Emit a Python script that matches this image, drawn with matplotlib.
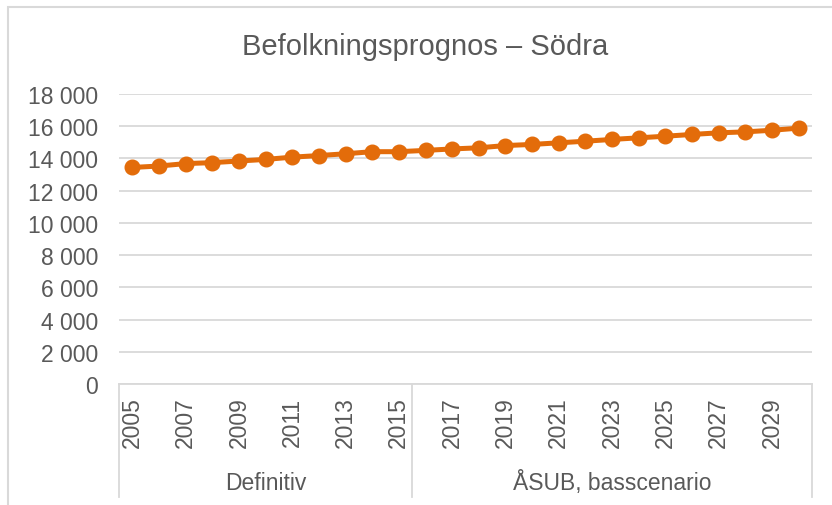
import matplotlib.pyplot as plt
from matplotlib.patches import Rectangle

plt.rcParams['font.family'] = ['Liberation Sans', 'DejaVu Sans']

# population per year
years = list(range(2005, 2031))
population = [13440, 13530, 13680, 13740, 13840, 13940, 14080, 14180, 14290, 14420,
              14420, 14500, 14590, 14660, 14800, 14870, 14970, 15070, 15180, 15280,
              15380, 15490, 15590, 15650, 15750, 15880]
groups = ['Definitiv', 'ÅSUB, basscenario']
group_sizes = [11, 15]
yticks = [0, 2000, 4000, 6000, 8000, 10000, 12000, 14000, 16000, 18000]

text_col = '#595959'
grid_col = '#D9D9D9'
line_col = '#E36C0A'

fig = plt.figure(figsize=(8.32, 5.06), dpi=100)
ax = fig.add_axes([119 / 832, 1 - 385 / 506, (812 - 119) / 832, 290 / 506])

x = list(range(len(years)))
ax.plot(x, population, color=line_col, lw=3.6, marker='o', ms=10.5, zorder=3)

ax.set_xlim(-0.5, len(years) - 0.5)
ax.set_ylim(0, 18000)
ax.set_yticks(yticks)
ax.set_yticklabels([f'{v:,}'.replace(',', ' ') for v in yticks])
ax.yaxis.grid(True, color=grid_col, lw=1.3)
ax.set_axisbelow(True)

ax.set_xticks(x[::2])
ax.set_xticklabels([str(y) for y in years[::2]], rotation=90, va='top')

for s in ['left', 'right', 'top']:
    ax.spines[s].set_visible(False)
ax.spines['bottom'].set_color(grid_col)
ax.spines['bottom'].set_linewidth(1.3)
ax.tick_params(axis='both', length=0, colors=text_col, labelsize=16.5)
ax.tick_params(axis='y', pad=15)
ax.tick_params(axis='x', pad=9)

# group separators and labels under the category axis
bounds = [-0.5]
for n in group_sizes:
    bounds.append(bounds[-1] + n)
trans = ax.get_xaxis_transform()
for b in bounds:
    ax.plot([b, b], [0, -0.39], color=grid_col, lw=1.3, transform=trans, clip_on=False)
for i, g in enumerate(groups):
    ax.text((bounds[i] + bounds[i + 1]) / 2, -0.338, g, transform=trans,
            ha='center', va='center', fontsize=16.5, color=text_col)

fig.text(0.5 * (241 + 609) / 832, 1 - 47 / 506, 'Befolkningsprognos – Södra',
         ha='center', va='center', fontsize=21, color=text_col)

fig.patches.append(Rectangle((8 / 832, -0.1), 1.2, 1.1 - 8 / 506 + 0.0, transform=fig.transFigure,
                             fill=False, edgecolor=grid_col, lw=1.5))

fig.savefig('out.png', dpi=100)
